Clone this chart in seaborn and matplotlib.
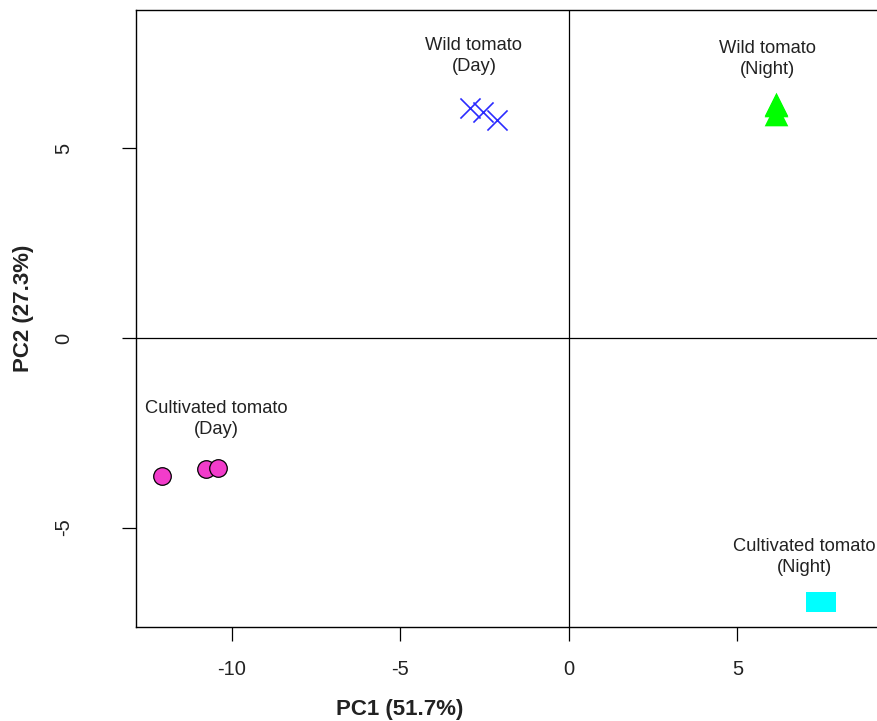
import matplotlib
matplotlib.use("Agg")
import matplotlib.pyplot as plt
import seaborn as sns
import pandas as pd

# PCA scores per sample group
wild_day_pc1 = [-2.94, -2.55, -2.14]
wild_day_pc2 = [6.07, 5.96, 5.75]
wild_night_pc1 = [6.14, 6.14, 6.15]
wild_night_pc2 = [6.18, 6.16, 5.90]
cult_day_pc1 = [-12.08, -10.77, -10.42]
cult_day_pc2 = [-3.64, -3.46, -3.43]
cult_night_pc1 = [7.32, 7.45, 7.62]
cult_night_pc2 = [-6.97, -6.97, -6.97]

group_names = ["Wild tomato\n(Day)", "Wild tomato\n(Night)",
               "Cultivated tomato\n(Day)", "Cultivated tomato\n(Night)"]
label_x = [-2.82, 5.9, -10.47, 7.0]
label_y = [7.45, 7.37, -2.13, -5.77]

x_ticks = [-10, -5, 0, 5]
y_ticks = [-5, 0, 5]
x_title = "PC1 (51.7%)"
y_title = "PC2 (27.3%)"

sns.set_style("white")
plt.rcParams["font.family"] = ["Liberation Sans", "DejaVu Sans"]

fig = plt.figure(figsize=(8.77, 7.21), dpi=100)
ax = fig.add_axes([136 / 877, 94 / 721, 750 / 877, 617 / 721])

groups = [
    (wild_day_pc1, wild_day_pc2, dict(marker="x", color="#2b2bff", s=210, linewidth=1.2)),
    (wild_night_pc1, wild_night_pc2, dict(marker="^", color="#00ff00", s=290, linewidth=0)),
    (cult_day_pc1, cult_day_pc2, dict(marker="o", color="#f23ccb", s=160, edgecolor="black", linewidth=0.9)),
    (cult_night_pc1, cult_night_pc2, dict(marker="s", color="#00ffff", s=200, linewidth=0)),
]
for xs, ys, kw in groups:
    df = pd.DataFrame({"PC1": xs, "PC2": ys})
    sns.scatterplot(data=df, x="PC1", y="PC2", ax=ax, zorder=3, **kw)

ax.axvline(0, color="black", linewidth=0.9, zorder=1)
ax.axhline(0, color="black", linewidth=0.9, zorder=1)

for name, tx, ty in zip(group_names, label_x, label_y):
    ax.text(tx, ty, name, ha="center", va="center", fontsize=13.2,
            color="#222222", linespacing=1.3)

ax.set_xlim(-12.85, 9.41)
ax.set_ylim(-7.625, 8.654)
ax.set_xticks(x_ticks)
ax.set_yticks(y_ticks)
ax.set_xticklabels([str(v) for v in x_ticks], fontsize=14.5, color="#222222")
ax.set_yticklabels([str(v) for v in y_ticks], fontsize=14.5, color="#222222",
                   rotation=90, va="center")
ax.tick_params(axis="x", direction="out", length=10, width=0.9, pad=14, color="black")
ax.tick_params(axis="y", direction="out", length=10, width=0.9, pad=35, color="black")
ax.tick_params(bottom=True, left=True)

for side in ["left", "bottom", "top"]:
    ax.spines[side].set_color("black")
    ax.spines[side].set_linewidth(1.0)
ax.spines["right"].set_visible(False)

ax.set_xlabel(x_title, fontsize=16, fontweight="bold", color="#222222")
ax.set_ylabel(y_title, fontsize=16, fontweight="bold", color="#222222")
ax.xaxis.label.set_va("center")
ax.yaxis.label.set_va("center")
ax.xaxis.set_label_coords((400 - 136) / 750, (627 - 710) / 617)
ax.yaxis.set_label_coords((24 - 136) / 750, (627 - 308) / 617)

fig.savefig("out.png", dpi=100, facecolor="white")
